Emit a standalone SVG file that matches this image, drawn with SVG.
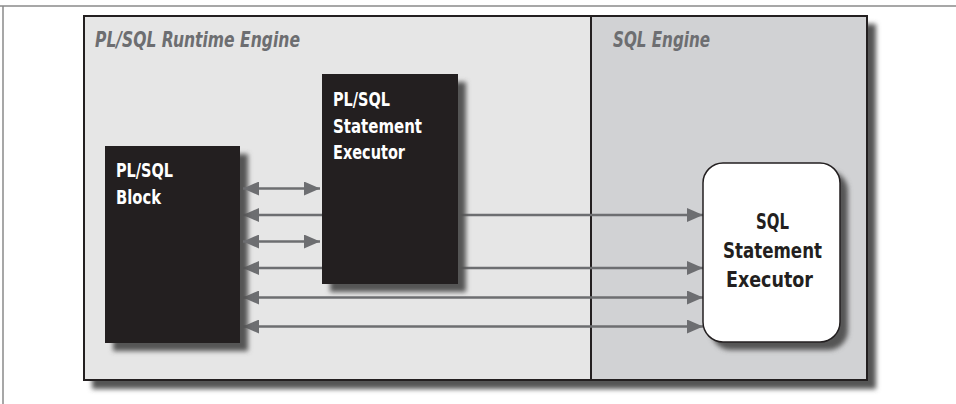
<svg xmlns="http://www.w3.org/2000/svg" width="956" height="404" viewBox="0 0 956 404">
<style>
.title{font-family:"Liberation Sans Narrow","DejaVu Sans Condensed","Liberation Sans",sans-serif;font-weight:bold;font-style:italic;font-size:21px;fill:#6d6e71}
.lbl{font-family:"Liberation Sans Narrow","DejaVu Sans Condensed","Liberation Sans",sans-serif;font-weight:bold;font-size:20px;fill:#ffffff}
.lbl2{font-family:"Liberation Sans Narrow","DejaVu Sans Condensed","Liberation Sans",sans-serif;font-weight:bold;font-size:22px;fill:#231f20}
.conn{stroke:#6d6e71;stroke-width:2.5;fill:none}
.box{fill:#231f20}
.shadow{fill:#555;filter:url(#blur)}
</style>
<defs>
<filter id="blur" x="-20%" y="-20%" width="140%" height="140%"><feGaussianBlur stdDeviation="2.5"/></filter>
<marker id="ah" viewBox="0 0 16 14" refX="16" refY="7" markerWidth="16" markerHeight="14" markerUnits="userSpaceOnUse" orient="auto-start-reverse">
<path d="M0,0 L16,7 L0,14 Z" fill="#6d6e71"/>
</marker>
</defs>
<rect width="956" height="404" fill="#ffffff"/>
<path d="M0,6 H956 M3,6 V404" stroke="#8a8a8a" stroke-width="1.5" fill="none"/>
<g id="frame">
<rect class="shadow" x="92" y="24" width="784" height="365"/>
<rect x="84" y="16" width="507" height="364" fill="#e6e6e6"/>
<rect x="591" y="16" width="276" height="364" fill="#d1d2d4"/>
<rect x="84" y="16" width="783" height="364" fill="none" stroke="#231f20" stroke-width="2"/>
<line x1="591" y1="16" x2="591" y2="380" stroke="#231f20" stroke-width="2"/>
<text class="title" x="95" y="47" textLength="205" lengthAdjust="spacingAndGlyphs">PL/SQL Runtime Engine</text>
<text class="title" x="613" y="47" textLength="97" lengthAdjust="spacingAndGlyphs">SQL Engine</text>
</g>
<g id="connectors">
<line class="conn" x1="243" y1="215" x2="703" y2="215" marker-start="url(#ah)" marker-end="url(#ah)"/>
<line class="conn" x1="243" y1="268" x2="703" y2="268" marker-start="url(#ah)" marker-end="url(#ah)"/>
<line class="conn" x1="243" y1="297.5" x2="703" y2="297.5" marker-start="url(#ah)" marker-end="url(#ah)"/>
<line class="conn" x1="243" y1="326.5" x2="703" y2="326.5" marker-start="url(#ah)" marker-end="url(#ah)"/>
</g>
<g id="plsql-block">
<rect class="shadow" x="113" y="154" width="135" height="197"/>
<rect class="box" x="105" y="146" width="135" height="197"/>
<text class="lbl" x="116" y="177" textLength="57" lengthAdjust="spacingAndGlyphs">PL/SQL</text>
<text class="lbl" x="116" y="204" textLength="45" lengthAdjust="spacingAndGlyphs">Block</text>
</g>
<g id="plsql-executor">
<rect class="shadow" x="330" y="82" width="136" height="210"/>
<rect class="box" x="322" y="74" width="136" height="210"/>
<text class="lbl" x="333" y="106" textLength="57" lengthAdjust="spacingAndGlyphs">PL/SQL</text>
<text class="lbl" x="333" y="133" textLength="89" lengthAdjust="spacingAndGlyphs">Statement</text>
<text class="lbl" x="333" y="159" textLength="72" lengthAdjust="spacingAndGlyphs">Executor</text>
</g>
<g id="connectors-short">
<line class="conn" x1="243" y1="188.5" x2="320" y2="188.5" marker-start="url(#ah)" marker-end="url(#ah)"/>
<line class="conn" x1="243" y1="241.5" x2="320" y2="241.5" marker-start="url(#ah)" marker-end="url(#ah)"/>
</g>
<g id="sql-executor">
<rect class="shadow" x="711" y="171" width="137" height="179" rx="20"/>
<rect x="703" y="163" width="137" height="179" rx="20" fill="#ffffff" stroke="#231f20" stroke-width="1.5"/>
<text class="lbl2" x="772.5" y="229" text-anchor="middle" textLength="33" lengthAdjust="spacingAndGlyphs">SQL</text>
<text class="lbl2" x="772.5" y="258" text-anchor="middle" textLength="99" lengthAdjust="spacingAndGlyphs">Statement</text>
<text class="lbl2" x="769.5" y="287" text-anchor="middle" textLength="87" lengthAdjust="spacingAndGlyphs">Executor</text>
</g>
</svg>
